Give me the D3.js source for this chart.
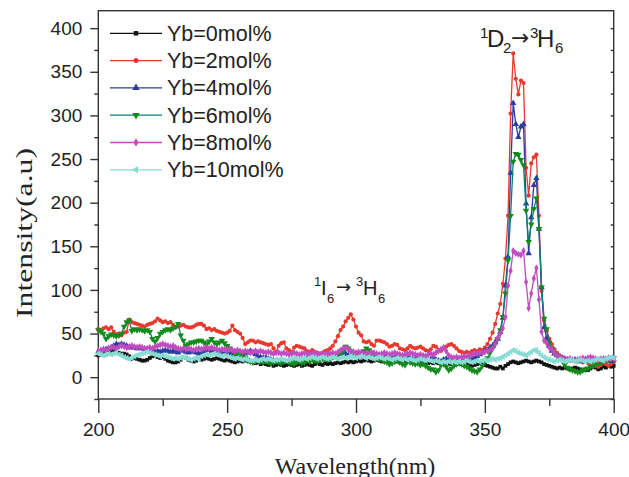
<!DOCTYPE html>
<html lang="en">
<head>
<meta charset="utf-8">
<title>Yb emission spectra</title>
<script src="https://cdn.jsdelivr.net/npm/d3@7"></script>
<style>
  body { margin: 0; background: #fff; }
  svg { display: block; }
  .tick text { font-family: "Liberation Sans", Arial, sans-serif; font-size: 19px; fill: #222; }
  .axis path, .axis line { stroke: #333; stroke-width: 1.4; }
</style>
</head>
<body>
<script>
// wavelength sampled every 1 nm, 200..400
var wavelength = d3.range(200, 401, 1);

var yb0 = [
  25,26,27,26,28,29,30,29,28,27,
  27,26,24,21,22,21,20,19,19,20,
  22,24,25,23,22,23,21,19,18,17,
  17,18,20,23,22,20,19,18,19,21,
  20,21,22,21,20,21,22,21,20,19,
  20,19,18,17,18,19,18,19,20,18,
  17,16,17,15,16,15,14,15,13,14,
  15,14,13,14,15,14,13,14,15,13,
  14,15,14,13,15,16,15,14,16,15,
  16,15,16,17,16,17,18,17,18,17,
  18,19,18,19,20,19,18,19,20,19,
  18,19,18,17,18,19,18,17,18,17,
  18,19,18,17,18,19,18,17,16,17,
  16,17,16,15,16,15,16,15,14,15,
  16,15,14,15,14,13,14,15,16,15,
  14,13,12,11,10,10,12,10,13,15,
  17,18,17,16,17,18,19,18,17,18,
  19,18,17,15,14,13,12,11,10,11,
  10,11,10,9,10,11,10,9,8,9,
  8,10,12,11,9,10,12,11,13,12,
  13
];

var yb2 = [
  55,54,56,57,55,57,52,49,50,48,
  51,52,66,63,62,61,60,59,58,60,
  61,62,64,67,65,63,64,62,63,60,
  57,58,59,60,58,57,57,58,60,61,
  61,59,55,56,54,55,53,52,51,50,
  51,53,59,54,52,50,45,38,40,42,
  42,40,41,40,39,38,37,38,33,29,
  36,39,40,33,31,29,34,36,35,34,
  33,30,29,31,29,28,27,28,30,31,
  33,36,41,47,54,58,64,68,72,66,
  58,51,48,41,40,41,38,36,42,42,
  41,40,38,35,36,38,37,33,32,31,
  33,36,34,33,34,35,33,31,30,32,
  36,35,31,30,33,35,37,38,36,33,
  30,29,28,29,28,30,31,30,32,31,
  34,38,44,51,61,73,84,107,136,185,
  302,371,342,324,340,337,240,208,245,252,
  255,185,99,65,53,44,38,32,28,25,
  23,22,20,21,19,20,18,19,17,18,
  16,15,14,13,12,14,16,15,13,15,
  17
];

var yb4 = [
  29,30,31,32,33,34,36,38,37,38,
  37,36,34,35,34,33,34,33,32,32,
  31,30,29,30,29,30,31,30,29,30,
  29,28,30,31,29,28,29,30,28,27,
  27,29,32,31,29,30,28,29,28,27,
  28,27,26,27,26,25,25,27,28,30,
  28,26,24,23,22,23,21,20,19,19,
  18,19,18,17,18,19,20,19,18,20,
  21,22,21,20,22,21,22,23,22,21,
  22,23,24,23,25,26,27,25,24,25,
  26,24,25,23,24,25,26,24,23,25,
  24,23,25,24,22,23,24,22,21,22,
  23,22,21,22,20,21,22,20,19,21,
  22,20,19,18,20,21,19,18,20,21,
  19,20,18,19,21,20,22,24,26,28,
  30,31,34,36,40,44,52,68,105,138,
  234,314,290,275,287,290,199,142,183,220,
  228,170,103,57,45,36,30,27,25,23,
  22,21,20,21,19,20,19,18,19,20,
  19,18,19,20,18,19,21,20,19,18,
  20
];

var yb6 = [
  54,52,50,44,47,49,48,47,48,50,
  58,63,65,53,55,54,55,54,53,54,
  52,44,41,45,50,52,54,55,54,56,
  58,61,48,42,36,38,40,40,41,42,
  42,40,38,41,44,40,38,40,42,39,
  36,33,30,27,28,26,24,22,19,18,
  17,18,19,18,17,18,17,16,17,18,
  17,16,18,19,17,16,15,17,18,16,
  17,19,18,20,19,18,20,21,22,20,
  21,23,24,22,26,30,35,33,30,28,
  27,26,28,30,33,31,27,24,22,21,
  20,18,17,15,16,18,19,17,15,14,
  18,17,16,15,16,14,15,13,11,9,
  9,6,8,14,15,12,8,10,13,15,
  16,15,13,12,10,8,7,6,9,13,
  18,22,28,33,38,44,54,69,96,134,
  185,247,256,255,249,243,191,155,175,193,
  205,170,103,67,55,40,33,28,25,23,
  20,14,11,9,8,7,6,6,8,9,
  10,12,13,15,16,17,18,19,20,22,
  22
];

var yb8 = [
  30,31,32,31,33,34,34,33,35,36,
  35,34,35,36,35,34,35,34,33,33,
  34,33,35,36,37,38,37,36,35,36,
  34,33,32,33,32,33,32,31,32,33,
  32,33,34,33,34,33,32,31,32,32,
  31,32,31,30,31,30,29,30,29,28,
  29,30,29,30,29,28,29,28,27,28,
  28,27,28,27,26,27,28,27,26,27,
  28,27,26,27,28,27,26,27,26,27,
  27,28,27,29,31,33,34,32,30,29,
  28,29,28,27,28,27,29,28,27,26,
  27,28,27,26,27,28,27,26,25,26,
  27,28,27,26,25,26,25,24,26,27,
  26,28,30,32,34,30,25,23,22,23,
  22,23,24,23,25,26,27,27,28,28,
  29,30,31,33,38,45,50,56,69,105,
  122,145,142,141,140,145,109,79,96,113,
  125,89,52,42,39,34,32,28,25,23,
  22,21,20,21,20,19,20,21,22,21,
  22,23,22,21,20,21,20,21,22,21,
  22
];

var yb10 = [
  27,26,25,26,27,26,27,28,26,25,
  23,22,21,22,24,25,26,27,28,29,
  28,27,26,25,24,25,24,23,22,21,
  22,21,22,23,22,21,20,21,22,21,
  24,25,26,25,26,27,26,25,24,25,
  24,23,22,21,22,21,20,21,20,19,
  19,20,19,20,21,20,21,20,19,20,
  20,21,20,19,20,21,22,21,20,21,
  22,21,22,23,22,21,22,23,22,21,
  22,23,22,21,22,23,22,23,24,23,
  22,23,24,23,22,23,22,21,22,23,
  22,21,22,21,20,21,22,21,20,21,
  20,21,20,19,20,21,20,19,20,19,
  18,19,18,17,18,17,18,17,18,17,
  18,17,18,19,18,17,18,19,18,19,
  20,19,20,21,20,21,22,23,25,27,
  29,31,30,28,27,26,25,27,29,31,
  31,28,25,23,21,20,19,18,19,20,
  19,18,19,20,19,18,19,20,19,18,
  19,18,19,20,21,20,19,21,22,23,
  22
];

var seriesNames = ["Yb=0mol%", "Yb=2mol%", "Yb=4mol%", "Yb=6mol%", "Yb=8mol%", "Yb=10mol%"];
var seriesValues = [yb0, yb2, yb4, yb6, yb8, yb10];

var xTicks = [200, 250, 300, 350, 400];
var yTicks = [0, 50, 100, 150, 200, 250, 300, 350, 400];

// styles, kept apart from the data
var lineColors   = ["#111111", "#e8392f", "#2b3ea0", "#0b7f76", "#c04cc0", "#88dcd4"];
var markerColors = ["#111111", "#e8392f", "#2b3ea0", "#138a1c", "#c04cc0", "#88dcd4"];
var markerTypes  = [d3.symbolSquare, d3.symbolCircle, d3.symbolTriangle, d3.symbolTriangle, d3.symbolDiamond, d3.symbolTriangle];
var markerRotate = [0, 0, 0, 180, 0, -90];
var markerSizes  = [14, 14, 18, 18, 16, 18];

var w = 629, h = 477;
var plotL = 98.3, plotR = 613.7, plotT = 10.7, plotB = 399;

var svg = d3.select("body").append("svg")
  .attr("width", w)
  .attr("height", h);

var x = d3.scaleLinear().domain([200, 400]).range([plotL, plotR]);
var y = d3.scaleLinear().domain([-25, 420]).range([plotB, plotT]);

// frame
svg.append("rect")
  .attr("x", plotL).attr("y", plotT)
  .attr("width", plotR - plotL).attr("height", plotB - plotT)
  .attr("fill", "none").attr("stroke", "#333").attr("stroke-width", 1.4);

// x axis, major + minor
svg.append("g").attr("class", "axis")
  .attr("transform", "translate(0," + plotB + ")")
  .call(d3.axisBottom(x).tickValues(xTicks).tickSize(14).tickSizeOuter(0).tickPadding(10).tickFormat(d3.format("d")));
svg.append("g").attr("class", "axis")
  .attr("transform", "translate(0," + plotB + ")")
  .call(d3.axisBottom(x).tickValues([225, 275, 325, 375]).tickSize(7).tickSizeOuter(0).tickFormat(""));

// y axis, major + minor
svg.append("g").attr("class", "axis")
  .attr("transform", "translate(" + plotL + ",0)")
  .call(d3.axisLeft(y).tickValues(yTicks).tickSize(8).tickSizeOuter(0).tickPadding(8).tickFormat(d3.format("d")));
svg.append("g").attr("class", "axis")
  .attr("transform", "translate(" + plotL + ",0)")
  .call(d3.axisLeft(y).tickValues(d3.range(-25, 400, 50)).tickSize(4).tickSizeOuter(0).tickFormat(""));

// right side small inward ticks
svg.append("g").attr("class", "axis")
  .attr("transform", "translate(" + plotR + ",0)")
  .call(d3.axisRight(y).tickValues(d3.range(-25, 420, 25)).tickSize(-3).tickSizeOuter(0).tickFormat(""));

svg.selectAll(".axis .domain").remove();

// axis titles
svg.append("text")
  .attr("x", 355)
  .attr("y", 474)
  .attr("text-anchor", "middle")
  .attr("font-family", "'Liberation Serif', 'Times New Roman', serif")
  .attr("font-size", "24px")
  .attr("fill", "#222")
  .text("Wavelength(nm)");

svg.append("text")
  .attr("transform", "translate(32,233) rotate(-90)")
  .attr("text-anchor", "middle")
  .attr("font-family", "'Liberation Serif', 'Times New Roman', serif")
  .attr("font-size", "24px")
  .attr("textLength", 170)
  .attr("lengthAdjust", "spacingAndGlyphs")
  .attr("fill", "#222")
  .text("Intensity(a.u)");

// series
var line = d3.line()
  .x(function(d, i) { return x(wavelength[i]); })
  .y(function(d) { return y(d); });

seriesValues.forEach(function(vals, s) {
  var g = svg.append("g");
  g.append("path")
    .datum(vals)
    .attr("d", line)
    .attr("fill", "none")
    .attr("stroke", lineColors[s])
    .attr("stroke-width", 1.3);
  g.selectAll("path.m")
    .data(vals)
    .enter()
    .append("path")
    .attr("class", "m")
    .attr("d", d3.symbol().type(markerTypes[s]).size(markerSizes[s]))
    .attr("transform", function(d, i) {
      return "translate(" + x(wavelength[i]) + "," + y(d) + ") rotate(" + markerRotate[s] + ")";
    })
    .attr("fill", markerColors[s]);
});

// legend
var legend = svg.append("g");
seriesNames.forEach(function(name, s) {
  var ly = 33.3 + s * 27.3;
  legend.append("line")
    .attr("x1", 110).attr("x2", 162)
    .attr("y1", ly).attr("y2", ly)
    .attr("stroke", lineColors[s])
    .attr("stroke-width", 1.3);
  legend.append("path")
    .attr("d", d3.symbol().type(markerTypes[s]).size(markerSizes[s] + 6))
    .attr("transform", "translate(136," + ly + ") rotate(" + markerRotate[s] + ")")
    .attr("fill", markerColors[s]);
  legend.append("text")
    .attr("x", 167)
    .attr("y", ly + 7.5)
    .attr("font-family", "'Liberation Sans', Arial, sans-serif")
    .attr("font-size", "21.5px")
    .attr("fill", "#222")
    .text(name);
});

// transition labels
function label(parts, size, sub) {
  var t = svg.append("text")
    .attr("font-family", "'Liberation Sans', Arial, sans-serif")
    .attr("fill", "#222");
  parts.forEach(function(p) {
    var ts = t.append("tspan")
      .attr("x", p[1]).attr("y", p[2])
      .attr("font-size", (p[3] ? sub : size) + "px")
      .text(p[0]);
    if (p[0] === "\u2192") ts.attr("font-family", "'DejaVu Sans', sans-serif").attr("font-size", size * 0.9 + "px");
  });
}

label([["1", 480, 38, 1], ["D", 487, 46.5], ["2", 503, 53, 1], ["\u2192", 511, 45], ["3", 530, 38, 1], ["H", 537, 46.5], ["6", 555, 53, 1]], 24, 15);
label([["1", 314, 286, 1], ["I", 321, 295], ["6", 327, 302.5, 1], ["\u2192", 336, 293], ["3", 356, 286, 1], ["H", 363, 295], ["6", 378, 302.5, 1]], 20, 13);
</script>
</body>
</html>
